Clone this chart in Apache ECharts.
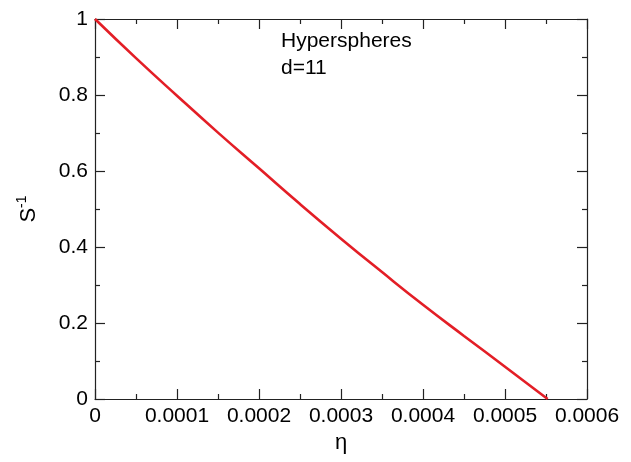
<!DOCTYPE html>
<html>
<head>
<meta charset="utf-8">
<script src="https://cdn.jsdelivr.net/npm/echarts@6/dist/echarts.min.js"></script>
<style>html,body{margin:0;padding:0;background:#fff;}#chart{width:631px;height:462px;}</style>
</head>
<body>
<div id="chart"></div>
<script>
// Data
const etaValues = [0, 0.00005, 0.0001, 0.00015, 0.0002, 0.00025, 0.0003, 0.00035, 0.0004, 0.00045, 0.0005, 0.000552];
const sInvValues = [1, 0.897, 0.798, 0.701, 0.607, 0.513, 0.422, 0.334, 0.248, 0.166, 0.085, 0];
const xTickLabels = ['0', '0.0001', '0.0002', '0.0003', '0.0004', '0.0005', '0.0006'];
const yTickLabels = ['0', '0.2', '0.4', '0.6', '0.8', '1'];
const annotationLines = ['Hyperspheres', 'd=11'];

const FONT = 'Liberation Sans';
const AXIS_COLOR = '#222';

const chart = echarts.init(document.getElementById('chart'), null, {renderer: 'canvas'});

const axisCommon = {
  axisLine: {show: true, onZero: false, lineStyle: {color: AXIS_COLOR, width: 1.2}},
  axisTick: {show: true, inside: true, length: 10, lineStyle: {color: AXIS_COLOR, width: 1.2}},
  minorTick: {show: true, splitNumber: 2, length: 5, lineStyle: {color: AXIS_COLOR, width: 1.2}},
  splitLine: {show: false},
  minorSplitLine: {show: false}
};

const option = {
  animation: false,
  backgroundColor: '#fff',
  grid: {left: 95, right: 44, top: 19, bottom: 63, containLabel: false},
  xAxis: [
    Object.assign({}, axisCommon, {
      type: 'value', min: 0, max: 0.0006, interval: 0.0001, position: 'bottom',
      name: 'η', nameLocation: 'middle', nameGap: 33,
      nameTextStyle: {fontFamily: FONT, fontSize: 22, color: '#000'},
      axisLabel: {
        show: true, margin: 7, fontFamily: FONT, fontSize: 21, color: '#000',
        formatter: v => xTickLabels[Math.round(v / 0.0001)]
      }
    }),
    Object.assign({}, axisCommon, {
      type: 'value', min: 0, max: 0.0006, interval: 0.0001, position: 'top',
      axisLabel: {show: false}
    })
  ],
  yAxis: [
    Object.assign({}, axisCommon, {
      type: 'value', min: 0, max: 1, interval: 0.2, position: 'left',
      name: '{s|S}{sup|-1}', nameLocation: 'middle', nameGap: 52, nameRotate: 90,
      nameTextStyle: {
        fontFamily: FONT, color: '#000',
        rich: {
          s: {fontFamily: FONT, fontSize: 22, color: '#000'},
          sup: {fontFamily: FONT, fontSize: 14, color: '#000', verticalAlign: 'top', padding: [0, 0, 14, 0]}
        }
      },
      axisLabel: {
        show: true, margin: 7, fontFamily: FONT, fontSize: 21, color: '#000',
        formatter: v => yTickLabels[Math.round(v / 0.2)]
      }
    }),
    Object.assign({}, axisCommon, {
      type: 'value', min: 0, max: 1, interval: 0.2, position: 'right',
      axisLabel: {show: false}
    })
  ],
  series: [{
    type: 'line',
    data: etaValues.map((x, i) => [x, sInvValues[i]]),
    smooth: 0.5,
    showSymbol: false,
    symbol: 'none',
    lineStyle: {color: '#e31e26', width: 2.6},
    clip: false
  }],
  graphic: [
    {type: 'text', left: 281, top: 31, style: {text: annotationLines[0], fontFamily: FONT, fontSize: 21, fill: '#000'}},
    {type: 'text', left: 281, top: 58, style: {text: annotationLines[1], fontFamily: FONT, fontSize: 21, fill: '#000'}}
  ]
};

chart.setOption(option);
</script>
</body>
</html>
